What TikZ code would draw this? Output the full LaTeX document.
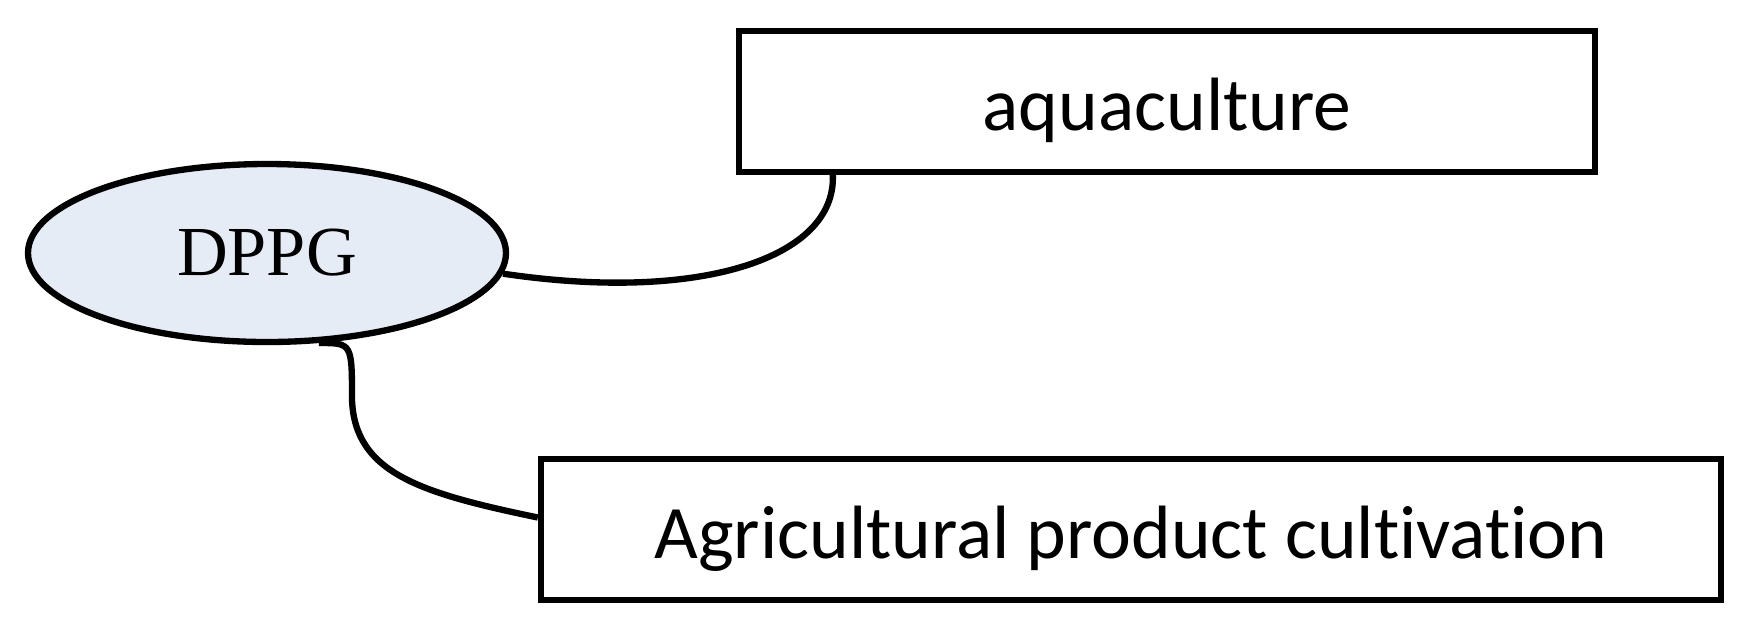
\documentclass[tikz,border=0pt]{standalone}
\usepackage{fontspec}
\usetikzlibrary{shapes.geometric}
\setmainfont{Carlito}[Ligatures=NoCommon]
\newfontfamily\dppgfont{Liberation Serif}
\definecolor{dppgfill}{HTML}{E6ECF6}
\begin{document}
\begin{tikzpicture}[
		topic/.style={ellipse, draw, line width=1.8pt, fill=dppgfill, minimum width=4.78cm, minimum height=1.78cm, inner sep=0pt, font=\dppgfont\fontsize{20}{24}\selectfont},
		field/.style={rectangle, draw, line width=1.8pt, minimum height=1.41cm, inner sep=0pt, text height=0.73cm, text depth=0.15cm, font=\fontsize{21.5}{26}\selectfont},
		link/.style={line width=1.8pt}
	]
		\useasboundingbox (0,0) rectangle (17.43,6.28);
		
		% Central topic
		\node[topic] (dppg) at (2.67,3.75) {DPPG};
		
		% Application fields
		\node[field, minimum width=8.56cm] (aqua) at (11.67,5.265) {aquaculture};
		\node[field, minimum width=11.8cm] (agri) at (11.31,0.985) {Agricultural product cultivation};
		
		% Links from the topic to the fields
		\draw[link] (dppg.-5) .. controls (7.0,3.25) and (8.36,3.7) .. ([xshift=0.97cm]aqua.south west);
		\draw[link] (dppg.-60) .. controls (3.52,2.85) .. (3.52,2.28)
		.. controls (3.55,1.55) and (4.2,1.35) .. ([yshift=0.12cm]agri.west);
		
	\end{tikzpicture}
\end{document}
